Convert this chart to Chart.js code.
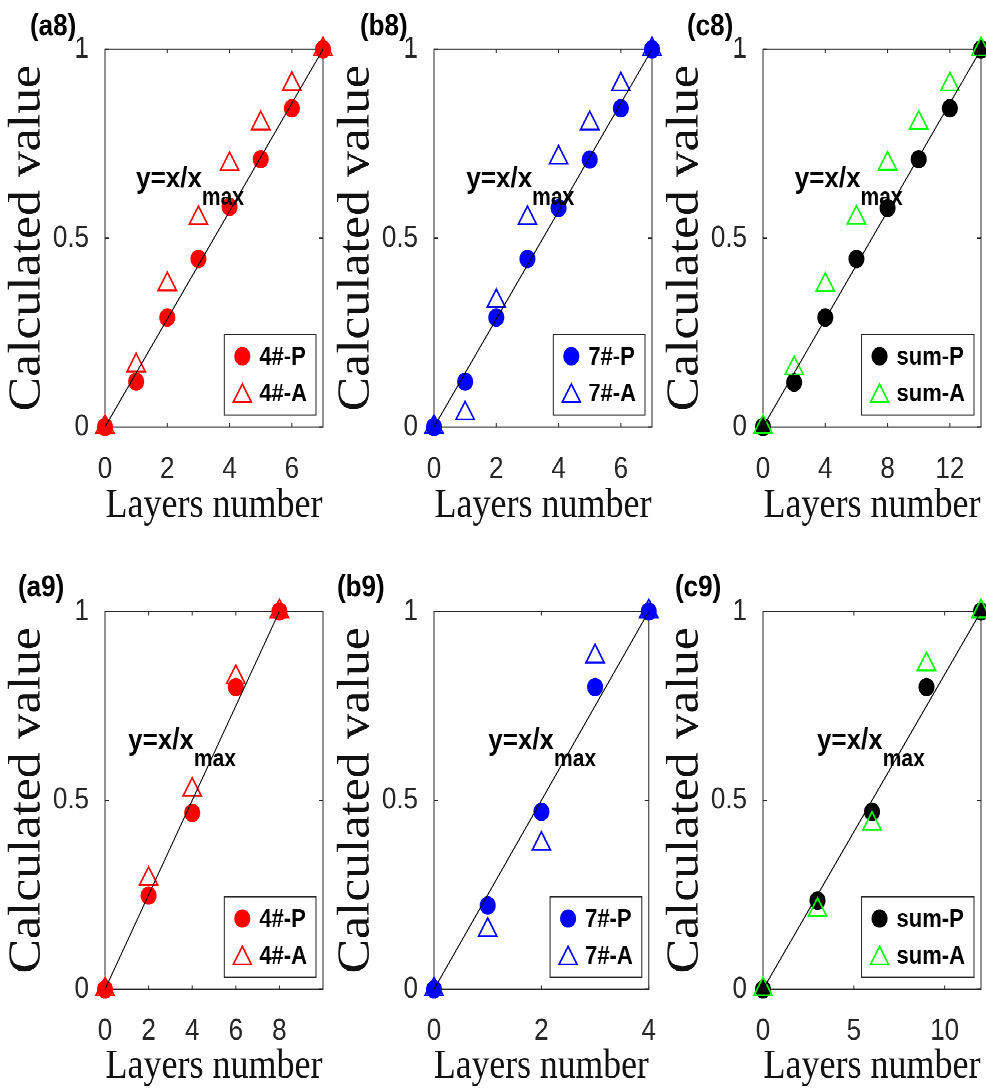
<!DOCTYPE html>
<html>
<head>
<meta charset="utf-8">
<script src="https://cdn.jsdelivr.net/npm/chart.js@4.4.1/dist/chart.umd.min.js"></script>
<style>
  html, body { margin: 0; padding: 0; background: #fff; overflow: hidden; }
  /* the source figure is stretched a bit in height, so draw flat and stretch */
  #page { position: absolute; left: 0; top: 0; width: 986px; height: 948px; transform: scaleY(1.15); transform-origin: 0 0; }
  #page canvas { position: absolute; }
</style>
</head>
<body>
<div id="page"></div>
<script>
// values
const a8X = [0, 1, 2, 3, 4, 5, 6, 7];
const a8P = [0, 0.12, 0.29, 0.445, 0.583, 0.709, 0.844, 1];
const a8A = [0, 0.163, 0.378, 0.553, 0.696, 0.804, 0.908, 1];

const b8X = [0, 1, 2, 3, 4, 5, 6, 7];
const b8P = [0, 0.12, 0.29, 0.445, 0.58, 0.708, 0.844, 1];
const b8A = [0, 0.036, 0.333, 0.553, 0.713, 0.804, 0.907, 1];

const c8X = [0, 2, 4, 6, 8, 10, 12, 14];
const c8P = [0, 0.118, 0.29, 0.445, 0.58, 0.709, 0.844, 1];
const c8A = [0, 0.155, 0.376, 0.554, 0.697, 0.805, 0.907, 1];

const a9X = [0, 2, 4, 6, 8];
const a9P = [0, 0.248, 0.467, 0.8, 1];
const a9A = [0, 0.292, 0.528, 0.826, 1];

const b9X = [0, 1, 2, 3, 4];
const b9P = [0, 0.222, 0.47, 0.8, 1];
const b9A = [0, 0.157, 0.385, 0.881, 1];

const c9X = [0, 3, 6, 9, 12];
const c9P = [0, 0.235, 0.47, 0.8, 1];
const c9A = [0, 0.21, 0.438, 0.86, 1];

const yTicks = [0, 0.5, 1];

const panels = [
  { label: '(a8)', names: ['4#-P', '4#-A'], x: a8X, P: a8P, A: a8A, colP: '#ff0000', colA: '#ff0000', xMax: 7,  xTicks: [0, 2, 4, 6],    note: [1.0, 0.634], col: 0, row: 0, labelX: 30 },
  { label: '(b8)', names: ['7#-P', '7#-A'], x: b8X, P: b8P, A: b8A, colP: '#0000ff', colA: '#0000ff', xMax: 7,  xTicks: [0, 2, 4, 6],    note: [1.04, 0.634], col: 1, row: 0, labelX: 31 },
  { label: '(c8)', names: ['sum-P', 'sum-A'], x: c8X, P: c8P, A: c8A, colP: '#000000', colA: '#00ff00', xMax: 14, xTicks: [0, 4, 8, 12], note: [2.04, 0.634], col: 2, row: 0, labelX: 29 },
  { label: '(a9)', names: ['4#-P', '4#-A'], x: a9X, P: a9P, A: a9A, colP: '#ff0000', colA: '#ff0000', xMax: 10, xTicks: [0, 2, 4, 6, 8], note: [1.06, 0.635], col: 0, row: 1, labelX: 18 },
  { label: '(b9)', names: ['7#-P', '7#-A'], x: b9X, P: b9P, A: b9A, colP: '#0000ff', colA: '#0000ff', xMax: 4,  xTicks: [0, 2, 4],       note: [1.01, 0.635], col: 1, row: 1, labelX: 8 },
  { label: '(c9)', names: ['sum-P', 'sum-A'], x: c9X, P: c9P, A: c9A, colP: '#000000', colA: '#00ff00', xMax: 12, xTicks: [0, 5, 10],      note: [2.97, 0.635], col: 2, row: 1, labelX: 17 }
];

// geometry (unstretched px)
const colLeft = [0, 329, 658];
const canvasW = 340, axisW = 105, plotW = 218;
const rows = [
  { top: 0,   h: 475, padTop: 42.9, axisH: 103.7, tickPad: 13.6, titlePad: 17,  labelBase: 30.5 },
  { top: 475, h: 473, padTop: 56.7, axisH: 87.7,  tickPad: 13,   titlePad: 2.6, labelBase: 43.3 }
];
const axisColor = '#262626';

function drawMarker(ctx, style, color, cx, cy) {
  ctx.save();
  if (style === 'circle') {
    ctx.fillStyle = color;
    ctx.beginPath();
    ctx.arc(cx, cy, 8, 0, Math.PI * 2);
    ctx.fill();
  } else {
    const r = 10.5, s = Math.sin(Math.PI / 3) * r;
    cy += r / 4;
    ctx.strokeStyle = color;
    ctx.lineWidth = 1.6;
    ctx.beginPath();
    ctx.moveTo(cx, cy - r);
    ctx.lineTo(cx + s, cy + r / 2);
    ctx.lineTo(cx - s, cy + r / 2);
    ctx.closePath();
    ctx.stroke();
  }
  ctx.restore();
}

const panelDecor = {
  id: 'panelDecor',
  beforeDatasetsDraw(chart) {
    const { ctx, chartArea: a, scales: { x, y } } = chart;
    ctx.save();
    ctx.strokeStyle = axisColor;
    ctx.lineWidth = 1;
    ctx.strokeRect(a.left, a.top, a.width, a.height);
    ctx.beginPath();
    x.ticks.forEach(t => {
      const px = x.getPixelForValue(t.value);
      ctx.moveTo(px, a.bottom); ctx.lineTo(px, a.bottom - 3.5);
      ctx.moveTo(px, a.top); ctx.lineTo(px, a.top + 3.5);
    });
    y.ticks.forEach(t => {
      const py = y.getPixelForValue(t.value);
      ctx.moveTo(a.left, py); ctx.lineTo(a.left + 4, py);
      ctx.moveTo(a.right, py); ctx.lineTo(a.right - 4, py);
    });
    ctx.stroke();
    ctx.restore();
  },
  afterDatasetsDraw(chart, args, opts) {
    const { ctx, chartArea: a, scales: { x, y } } = chart;
    ctx.save();
    ctx.fillStyle = '#000';
    ctx.textAlign = 'left';
    ctx.textBaseline = 'alphabetic';

    // panel tag
    ctx.font = 'bold 26px "Liberation Sans"';
    ctx.fillText(opts.label, opts.labelX, opts.labelBase);

    // y=x/x_max note
    const nx = x.getPixelForValue(opts.note[0]);
    const ny = y.getPixelForValue(opts.note[1]);
    ctx.font = 'bold 26px "Liberation Sans"';
    ctx.fillText('y=x/x', nx, ny);
    const w = ctx.measureText('y=x/x').width;
    ctx.font = 'bold 21px "Liberation Sans"';
    ctx.fillText('max', nx + w, ny + 15);

    // legend box
    const items = chart.data.datasets.filter(d => d.inLegend);
    ctx.font = 'bold 22px "Liberation Sans"';
    const tw = Math.max(...items.map(d => ctx.measureText(d.label).width));
    const bw = 36 + tw + 8, bh = 70;
    const bx = a.right - 7 - bw, by = a.bottom - 10.5 - bh;
    ctx.fillStyle = '#fff';
    ctx.fillRect(bx, by, bw, bh);
    ctx.strokeStyle = axisColor;
    ctx.lineWidth = 1;
    ctx.strokeRect(bx, by, bw, bh);
    ctx.textBaseline = 'middle';
    items.forEach((d, i) => {
      const ry = by + 19 + i * 32;
      drawMarker(ctx, d.pointStyle, d.pointBorderColor, bx + 18, ry);
      ctx.fillStyle = '#000';
      ctx.fillText(d.label, bx + 35, ry + 1);
    });
    ctx.restore();
  }
};

const page = document.getElementById('page');

panels.forEach(p => {
  const row = rows[p.row];
  const cv = document.createElement('canvas');
  cv.width = canvasW;
  cv.height = row.h;
  cv.style.left = colLeft[p.col] + 'px';
  cv.style.top = row.top + 'px';
  page.appendChild(cv);

  const last = p.x.length - 1;
  const tickFont = { family: 'Liberation Sans', size: 26 };

  new Chart(cv, {
    type: 'scatter',
    data: {
      datasets: [
        {
          label: p.names[0], inLegend: true,
          data: p.x.map((v, i) => ({ x: v, y: p.P[i] })),
          pointStyle: 'circle', pointRadius: 8, pointBorderWidth: 0,
          pointBackgroundColor: p.colP, pointBorderColor: p.colP,
          order: 3, clip: false
        },
        {
          label: p.names[1], inLegend: true,
          data: p.x.map((v, i) => ({ x: v, y: p.A[i] })),
          pointStyle: 'triangle', pointRadius: 10.5, pointBorderWidth: 1.6,
          pointBackgroundColor: 'rgba(0,0,0,0)', pointBorderColor: p.colA,
          order: 2, clip: false
        },
        {
          type: 'line', label: 'y=x/xmax',
          data: [{ x: p.x[0], y: 0 }, { x: p.x[last], y: 1 }],
          borderColor: '#000', borderWidth: 1, pointRadius: 0, fill: false,
          order: 1
        }
      ]
    },
    options: {
      responsive: false,
      animation: false,
      devicePixelRatio: 2,
      events: [],
      layout: { padding: { left: 0, right: canvasW - axisW - plotW, top: row.padTop, bottom: 0 } },
      plugins: {
        legend: { display: false },
        tooltip: { enabled: false },
        panelDecor: { label: p.label, labelX: p.labelX, labelBase: row.labelBase, note: p.note }
      },
      scales: {
        x: {
          type: 'linear', min: 0, max: p.xMax,
          afterBuildTicks: s => { s.ticks = p.xTicks.map(v => ({ value: v })); },
          afterFit: s => { s.height = row.axisH; },
          grid: { display: false },
          border: { display: false },
          ticks: { font: tickFont, color: axisColor, padding: row.tickPad, maxRotation: 0, autoSkip: false, callback: v => String(v) },
          title: {
            display: true, text: 'Layers number', color: '#111',
            font: { family: 'Liberation Serif', size: 36, lineHeight: 1 },
            padding: { top: 0, bottom: row.titlePad }
          }
        },
        y: {
          type: 'linear', min: 0, max: 1,
          afterBuildTicks: s => { s.ticks = yTicks.map(v => ({ value: v })); },
          afterFit: s => { s.width = axisW; },
          grid: { display: false },
          border: { display: false },
          ticks: { font: tickFont, color: axisColor, padding: 8, autoSkip: false, callback: v => String(v) },
          title: {
            display: true, text: 'Calculated value', color: '#111',
            font: { family: 'Liberation Serif', size: 45, lineHeight: 1 },
            padding: { top: 5, bottom: 0 }
          }
        }
      }
    },
    plugins: [panelDecor]
  });
});
</script>
</body>
</html>
